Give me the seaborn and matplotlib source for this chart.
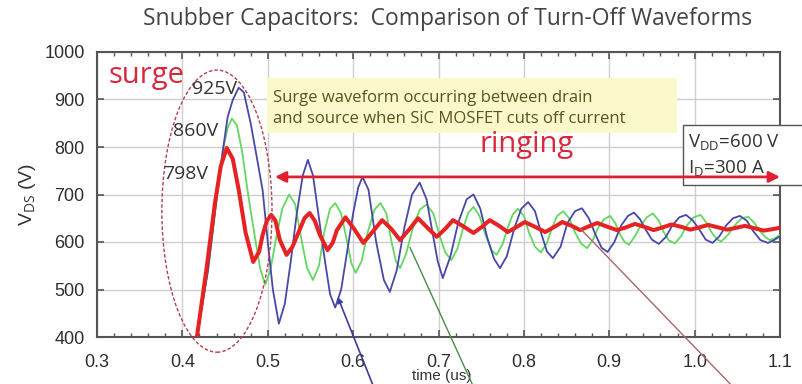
import matplotlib
matplotlib.use("Agg")
import matplotlib.pyplot as plt
import matplotlib.patches as mpatches
from matplotlib.ticker import MultipleLocator
import numpy as np
import pandas as pd
import seaborn as sns

# ---------------- data ----------------
red_t = [0.417, 0.428, 0.438, 0.445, 0.452, 0.459, 0.466, 0.474, 0.483, 0.490, 0.494, 0.499,
         0.504, 0.509, 0.514, 0.522, 0.529, 0.536, 0.543, 0.549, 0.555, 0.561, 0.570, 0.576,
         0.581, 0.591, 0.601, 0.612, 0.623, 0.634, 0.645, 0.655, 0.666, 0.676, 0.687, 0.698,
         0.708, 0.717, 0.729, 0.741, 0.751, 0.760, 0.771, 0.781, 0.791, 0.801, 0.813, 0.825,
         0.835, 0.845, 0.856, 0.866, 0.876, 0.886, 0.898, 0.909, 0.920, 0.930, 0.941, 0.952,
         0.963, 0.973, 0.984, 0.995, 1.006, 1.016, 1.027, 1.038, 1.049, 1.059, 1.070, 1.081,
         1.091, 1.100]
red_v = [400, 540, 680, 760, 798, 775, 710, 620, 558, 580, 615, 645,
         657, 645, 605, 573, 590, 620, 650, 661, 645, 615, 583, 598,
         625, 652, 628, 598, 622, 646, 627, 604, 627, 650, 630, 611,
         628, 646, 633, 619, 632, 646, 634, 621, 631, 642, 632, 621,
         631, 642, 634, 625, 633, 640, 632, 625, 631, 638, 632, 625,
         631, 637, 632, 626, 631, 636, 631, 626, 630, 634, 629, 624,
         627, 630]

blue_t = [0.417, 0.430, 0.440, 0.448, 0.453, 0.459, 0.466, 0.472, 0.480, 0.487, 0.494, 0.500,
          0.506, 0.513, 0.520, 0.527, 0.534, 0.541, 0.547, 0.553, 0.560, 0.567, 0.573, 0.579,
          0.586, 0.593, 0.600, 0.606, 0.611, 0.618, 0.627, 0.636, 0.643, 0.651, 0.660, 0.669,
          0.678, 0.686, 0.693, 0.699, 0.705, 0.714, 0.723, 0.733, 0.741, 0.749, 0.757, 0.765,
          0.772, 0.780, 0.789, 0.797, 0.805, 0.813, 0.820, 0.827, 0.834, 0.843, 0.851, 0.860,
          0.868, 0.876, 0.884, 0.891, 0.898, 0.906, 0.914, 0.922, 0.929, 0.936, 0.943, 0.950,
          0.958, 0.966, 0.974, 0.982, 0.990, 0.998, 1.006, 1.013, 1.021, 1.029, 1.037, 1.045,
          1.053, 1.061, 1.069, 1.077, 1.086, 1.093, 1.100]
blue_v = [400, 540, 690, 800, 863, 899, 925, 915, 850, 780, 709, 600,
          500, 428, 470, 560, 660, 740, 773, 740, 650, 560, 490, 462,
          500, 580, 660, 715, 737, 710, 600, 520, 495, 540, 630, 700,
          725, 690, 620, 560, 524, 570, 640, 690, 700, 670, 610, 565,
          545, 570, 630, 670, 684, 665, 620, 580, 566, 590, 640, 665,
          671, 650, 615, 588, 579, 600, 635, 655, 662, 648, 625, 605,
          596, 610, 635, 652, 657, 645, 625, 605, 598, 612, 635, 650,
          655, 645, 622, 604, 598, 604, 612]

green_t = [0.417, 0.430, 0.440, 0.447, 0.453, 0.458, 0.464, 0.470, 0.477, 0.485, 0.491, 0.497,
           0.503, 0.510, 0.517, 0.525, 0.532, 0.539, 0.546, 0.553, 0.560, 0.566, 0.573, 0.579,
           0.586, 0.593, 0.598, 0.603, 0.610, 0.617, 0.625, 0.632, 0.639, 0.645, 0.650, 0.655,
           0.662, 0.670, 0.678, 0.686, 0.694, 0.701, 0.708, 0.715, 0.722, 0.729, 0.735, 0.741,
           0.748, 0.755, 0.762, 0.768, 0.775, 0.781, 0.787, 0.793, 0.800, 0.806, 0.813, 0.820,
           0.827, 0.833, 0.839, 0.846, 0.853, 0.860, 0.867, 0.874, 0.881, 0.887, 0.894, 0.901,
           0.907, 0.913, 0.918, 0.923, 0.930, 0.937, 0.944, 0.951, 0.958, 0.964, 0.970, 0.977,
           0.984, 0.991, 0.999, 1.007, 1.014, 1.020, 1.026, 1.031, 1.039, 1.047, 1.055, 1.063,
           1.070, 1.077, 1.083, 1.088, 1.094, 1.100]
green_v = [400, 540, 690, 790, 840, 860, 845, 790, 700, 610, 545, 510,
           540, 610, 670, 700, 680, 610, 545, 520, 550, 620, 670, 682,
           660, 600, 555, 535, 560, 620, 668, 682, 660, 600, 560, 545,
           575, 630, 668, 679, 660, 615, 578, 562, 585, 630, 662, 674,
           655, 615, 583, 573, 595, 630, 658, 670, 655, 620, 590, 578,
           598, 630, 655, 665, 650, 620, 597, 587, 605, 630, 648, 655,
           640, 615, 600, 594, 612, 635, 652, 660, 645, 620, 603, 597,
           612, 635, 652, 657, 640, 620, 606, 601, 615, 635, 650, 653,
           640, 622, 610, 604, 608, 615]

x_ticks = [0.3, 0.4, 0.5, 0.6, 0.7, 0.8, 0.9, 1.0, 1.1]
x_tick_labels = ["0.3", "0.4", "0.5", "0.6", "0.7", "0.8", "0.9", "1.0", "1.1"]
y_ticks = [400, 500, 600, 700, 800, 900, 1000]
peak_labels = ["925V", "860V", "798V"]

# ---------------- style ----------------
sns.set_style("ticks")
plt.rcParams["font.family"] = ["Liberation Sans", "DejaVu Sans"]
plt.rcParams["mathtext.fontset"] = "custom"
plt.rcParams["mathtext.rm"] = "Open Sans"
plt.rcParams["mathtext.it"] = "Open Sans:italic"

W, H = 802, 384
fig = plt.figure(figsize=(W / 100, H / 100), dpi=100)
ax = fig.add_axes([97 / W, 1 - 337 / H, 683 / W, 285 / H])

c_blue = "#4848a8"
c_green = "#62d862"
c_red = "#e62222"

df_g = pd.DataFrame({"t": green_t, "v": green_v})
df_b = pd.DataFrame({"t": blue_t, "v": blue_v})
df_r = pd.DataFrame({"t": red_t, "v": red_v})
sns.lineplot(data=df_g, x="t", y="v", ax=ax, color=c_green, lw=1.3, sort=False, estimator=None,
             zorder=3, solid_joinstyle="round")
sns.lineplot(data=df_b, x="t", y="v", ax=ax, color=c_blue, lw=1.3, sort=False, estimator=None,
             zorder=3.2, solid_joinstyle="round")
sns.lineplot(data=df_r, x="t", y="v", ax=ax, color=c_red, lw=2.9, sort=False, estimator=None,
             zorder=3.4, solid_joinstyle="round", solid_capstyle="round")

ax.set_xlim(0.3, 1.1)
ax.set_ylim(400, 1000)
ax.set_xticks(x_ticks)
ax.set_xticklabels(x_tick_labels)
ax.set_yticks(y_ticks)
ax.xaxis.set_minor_locator(MultipleLocator(0.02))
ax.grid(True, which="major", color="#cfcfcf", lw=1.0, zorder=0)
ax.set_axisbelow(True)
for s in ax.spines.values():
    s.set_color("#555555")
    s.set_linewidth(1.5)
ax.tick_params(axis="both", which="major", direction="in", length=5, width=1.2,
               colors="#555555", labelcolor="#2e2e2e", labelsize=13, top=True, right=True)
ax.tick_params(axis="x", which="major", pad=12)
ax.tick_params(axis="y", which="major", pad=9)
ax.tick_params(axis="x", which="minor", direction="in", length=3, width=1.0,
               colors="#555555", top=True)

ax.set_xlabel("time (us)", fontsize=11, color="#333333")
ax.xaxis.set_label_coords((442 - 97) / 683, (337 - 383) / 285)
ax.xaxis.label.set_va("bottom")
ax.set_ylabel("V$_{\\mathrm{DS}}$ (V)", fontsize=14, color="#333333")
ax.yaxis.set_label_coords((27 - 97) / 683, 0.5)
ax.yaxis.label.set_va("center")

# title
fig.text(448 / W, 1 - 19 / H, "Snubber Capacitors:  Comparison of Turn-Off Waveforms",
         ha="center", va="center", fontsize=16.5, color="#444444", family="Open Sans")

# surge ellipse
ell = mpatches.Ellipse((0.4405, 665), 0.129, 594, fill=False, edgecolor="#b04050",
                       lw=1.0, ls=(0, (2.5, 1.5)), clip_on=False, zorder=4)
ax.add_patch(ell)

ax.text(0.313, 935, "surge", color="#d8283c", fontsize=21, family="Open Sans",
        ha="left", va="baseline", zorder=5)
for lab, (tx, vy) in zip(peak_labels, [(0.4112, 922), (0.389, 834), (0.3773, 743)]):
    ax.text(tx, vy, lab, fontsize=14, color="#333333", family="Open Sans",
            ha="left", va="center", zorder=5)

# yellow note box
ax.add_patch(mpatches.Rectangle(((267 - 97) / 683, (337 - 133) / 285), 410 / 683, 55 / 285,
                                transform=ax.transAxes, facecolor="#fbf8cc", edgecolor="none",
                                zorder=2))
ax.text(0.506, 903, "Surge waveform occurring between drain", fontsize=12, color="#55551c",
        family="Open Sans", ha="left", va="center", zorder=5)
ax.text(0.506, 858, "and source when SiC MOSFET cuts off current", fontsize=12, color="#55551c",
        family="Open Sans", ha="left", va="center", zorder=5)

# ringing label + arrow
ax.text(0.8035, 789, "ringing", color="#d8283c", fontsize=21, family="Open Sans",
        ha="center", va="baseline", zorder=5)
ax.annotate("", xy=(0.5084, 737), xytext=(1.1, 737),
            arrowprops=dict(arrowstyle="<|-|>", color="#e02030", lw=2.0, mutation_scale=16,
                            shrinkA=0, shrinkB=0),
            annotation_clip=False, zorder=6)

# condition box
ax.add_patch(mpatches.Rectangle(((683 - 97) / 683, (337 - 185) / 285), 0.3, 60 / 285,
                                transform=ax.transAxes, facecolor="white", edgecolor="#555555",
                                lw=1.0, clip_on=False, zorder=4.5))
ax.text((688 - 97) / 683, (337 - 142) / 285, "V$_{\\mathrm{DD}}$=600 V", transform=ax.transAxes,
        fontsize=13.5, color="#333333", family="Open Sans", ha="left", va="center",
        clip_on=False, zorder=5)
ax.text((688 - 97) / 683, (337 - 168) / 285, "I$_{\\mathrm{D}}$=300 A", transform=ax.transAxes,
        fontsize=13.5, color="#333333", family="Open Sans", ha="left", va="center",
        clip_on=False, zorder=5)

# pointer lines leaving the plot at the bottom
ax.annotate("", xy=(0.582, 484), xytext=(0.624, 295),
            arrowprops=dict(arrowstyle="-|>", color="#3c3c9c", lw=1.2, mutation_scale=8,
                            shrinkA=0, shrinkB=0),
            annotation_clip=False, zorder=6)
ax.annotate("", xy=(0.6665, 589), xytext=(0.741, 295),
            arrowprops=dict(arrowstyle="-", color="#4a8a4a", lw=1.0, shrinkA=0, shrinkB=0),
            annotation_clip=False, zorder=6)
ax.annotate("", xy=(0.8656, 629), xytext=(1.045, 295),
            arrowprops=dict(arrowstyle="-", color="#a86868", lw=1.0, shrinkA=0, shrinkB=0),
            annotation_clip=False, zorder=6)

fig.savefig("out.png", dpi=100)
